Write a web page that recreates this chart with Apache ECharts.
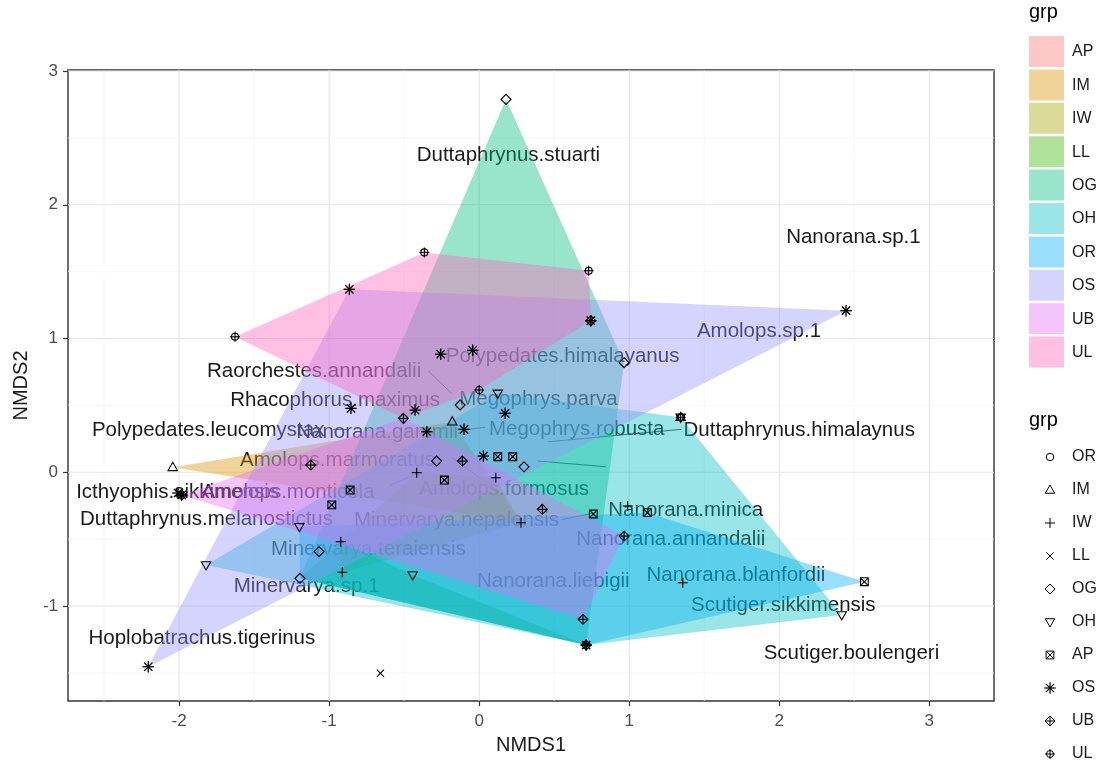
<!DOCTYPE html>
<html><head><meta charset="utf-8">
<script src="https://cdn.jsdelivr.net/npm/echarts@6/dist/echarts.min.js"></script>
<style>html,body{margin:0;padding:0;background:#fff}#c{width:1116px;height:764px}</style>
</head><body><div id="c"></div>
<script>
// ---------- data ----------
const groups = ['AP','IM','IW','LL','OG','OH','OR','OS','UB','UL'];
const groupColors = ['#F8766D','#D89000','#A3A500','#39B600','#00BF7D','#00BFC4','#00B0F6','#9590FF','#E76BF3','#FF62BC'];
const shapeLegendGroups = ['OR','IM','IW','LL','OG','OH','AP','OS','UB','UL'];
const shapeLegendShapes = ['circle','tri','plus','cross','diamond','dtri','sqx','star','dplus','cplus'];

// hull vertices per group (NMDS1, NMDS2)
const hullIM = [[-2.042,0.037],[-0.179,0.378],[0.279,-0.377]];
const hullIW = [[-0.922,-0.519],[-0.416,-0.003],[0.111,-0.041],[0.279,-0.377],[-0.912,-0.748]];
const hullLL = [[-1.194,-0.793],[-0.922,-0.519],[-0.443,-0.768],[0.713,-1.292]];
const hullOG = [[0.179,2.788],[0.966,0.819],[0.713,-1.292],[-1.194,-0.793]];
const hullOH = [[-1.820,-0.693],[0.124,0.590],[1.343,0.411],[2.416,-1.067],[0.713,-1.292]];
const hullOR = [[-1.198,-0.407],[1.121,-0.302],[2.567,-0.818],[0.713,-1.292],[-1.194,-0.793]];
const hullOS = [[-2.205,-1.454],[-0.865,1.368],[2.445,1.208]];
const hullUB = [[-1.982,-0.170],[-0.505,0.403],[0.966,-0.477],[0.692,-1.099]];
const hullUL = [[-1.627,1.013],[-0.365,1.644],[0.730,1.507],[0.744,1.133],[0.000,0.615],[-0.505,0.403]];
const hulls = {AP:[],IM:hullIM,IW:hullIW,LL:hullLL,OG:hullOG,OH:hullOH,OR:hullOR,OS:hullOS,UB:hullUB,UL:hullUL};

// species points: x, y, marker shape
const ptX = [0.179,-0.365,0.730,-1.627,-0.865,0.744,0.744,2.445,-0.256,-0.043,0.966,0.000,0.124,-0.127,-0.427,-0.854,-0.505,0.173,-0.179,-0.101,-0.349,1.343,1.343,1.343,-2.042,-1.122,-1.982,-1.982,-2.007,-0.860,-0.982,-1.198,-0.922,-1.067,-1.820,-0.912,-1.194,-0.283,-0.112,0.028,0.124,0.224,0.299,-0.416,0.111,-0.232,0.421,0.279,0.761,0.990,1.121,0.966,-0.443,1.357,0.692,0.713,0.713,0.713,0.713,2.567,2.416,-2.205,-0.658];
const ptY = [2.788,1.644,1.507,1.013,1.368,1.133,1.133,1.208,0.883,0.912,0.819,0.615,0.590,0.503,0.465,0.478,0.403,0.441,0.378,0.321,0.303,0.411,0.411,0.411,0.037,0.054,-0.170,-0.170,-0.155,-0.133,-0.244,-0.407,-0.519,-0.594,-0.693,-0.748,-0.793,0.084,0.084,0.121,0.116,0.116,0.041,-0.003,-0.041,-0.058,-0.277,-0.377,-0.312,-0.252,-0.302,-0.477,-0.768,-0.826,-1.099,-1.292,-1.292,-1.292,-1.292,-0.818,-1.067,-1.454,-1.503];
const ptShape = ['diamond','cplus','cplus','cplus','star','star','dplus','star','star','star','diamond','cplus','dtri','diamond','star','star','dplus','star','tri','star','star','tri','dtri','cplus','tri','dplus','star','dplus','star','sqx','sqx','dtri','plus','diamond','dtri','plus','diamond','diamond','dplus','star','sqx','sqx','diamond','plus','plus','sqx','dplus','plus','sqx','plus','sqx','dplus','dtri','plus','dplus','star','dplus','plus','cross','sqx','dtri','star','cross'];

// species labels
const labelText = ['Duttaphrynus.stuarti','Nanorana.sp.1','Amolops.sp.1','Polypedates.himalayanus','Raorchestes.annandalii','Megophrys.parva','Rhacophorus.maximus','Polypedates.leucomystax','Nanorana.gammii','Megophrys.robusta','Duttaphrynus.himalaynus','Amolops.marmoratus','Amolops.monticola','Icthyophis.sikkimensis','Duttaphrynus.melanostictus','Minervarya.nepalensis','Amolops.formosus','Nanorana.minica','Minervarya.teraiensis','Nanorana.annandalii','Nanorana.liebigii','Nanorana.blanfordii','Minervarya.sp.1','Scutiger.sikkimensis','Hoplobatrachus.tigerinus','Scutiger.boulengeri'];
const labelX = [0.195,2.494,1.865,0.556,-1.100,0.395,-0.960,-1.806,-0.680,0.650,2.133,-0.944,-1.274,-2.010,-1.817,-0.151,0.167,1.377,-0.738,1.277,0.494,1.711,-1.150,2.027,-1.848,2.481];
const labelY = [2.372,1.757,1.051,0.869,0.752,0.545,0.540,0.316,0.301,0.321,0.316,0.092,-0.150,-0.150,-0.352,-0.357,-0.127,-0.282,-0.576,-0.501,-0.818,-0.768,-0.856,-0.993,-1.241,-1.354];

// leader segments [x1,y1,x2,y2]
const segments = [
  [-0.338,0.757,-0.183,0.589],
  [-0.973,0.320,-0.880,0.320],
  [-0.074,0.321,0.039,0.336],
  [1.347,0.321,0.460,0.228],
  [0.385,0.085,0.845,0.041],
  [-0.593,-0.097,-0.437,-0.022],
  [-0.182,0.112,0.006,-0.045],
  [0.550,-0.355,0.761,-0.305]
];

const xMajor = [-2,-1,0,1,2,3];
const xMinor = [-2.5,-1.5,-0.5,0.5,1.5,2.5];
const yMajor = [-1,0,1,2,3];
const yMinor = [-1.5,-0.5,0.5,1.5,2.5];
const xRange = [-2.74,3.431];
const yRange = [-1.71,3.0075];

// ---------- drawing helpers ----------
function shapeEls(shape, cx, cy, r, lw){
  const st = {stroke:'#000', fill:'none', lineWidth:lw};
  const L = (x1,y1,x2,y2)=>({type:'line', shape:{x1,y1,x2,y2}, style:st});
  const P = pts=>({type:'polygon', shape:{points:pts}, style:st});
  const plus = [L(cx-r,cy,cx+r,cy), L(cx,cy-r,cx,cy+r)];
  const k = r*0.72;
  const cross = [L(cx-k,cy-k,cx+k,cy+k), L(cx-k,cy+k,cx+k,cy-k)];
  switch(shape){
    case 'circle': return [{type:'circle', shape:{cx,cy,r:r*0.75}, style:st}];
    case 'tri': return [P([[cx,cy-r],[cx+r*0.95,cy+r*0.65],[cx-r*0.95,cy+r*0.65]])];
    case 'dtri': return [P([[cx,cy+r],[cx+r*0.95,cy-r*0.65],[cx-r*0.95,cy-r*0.65]])];
    case 'plus': return plus;
    case 'cross': return cross;
    case 'diamond': return [P([[cx,cy-r],[cx+r,cy],[cx,cy+r],[cx-r,cy]])];
    case 'sqx': { const s=r*0.78; return [{type:'rect', shape:{x:cx-s,y:cy-s,width:2*s,height:2*s}, style:st}, L(cx-s,cy-s,cx+s,cy+s), L(cx-s,cy+s,cx+s,cy-s)]; }
    case 'star': { const R=r*1.15, K=R*0.72; return [L(cx-R,cy,cx+R,cy), L(cx,cy-R,cx,cy+R), L(cx-K,cy-K,cx+K,cy+K), L(cx-K,cy+K,cx+K,cy-K)].map(e=>{e.style={stroke:'#000',lineWidth:lw*1.2};return e;}); }
    case 'dplus': return [P([[cx,cy-r],[cx+r,cy],[cx,cy+r],[cx-r,cy]])].concat(plus);
    case 'cplus': return [{type:'circle', shape:{cx,cy,r:r*0.7}, style:st}].concat(plus);
  }
  return [];
}
function rgba(hex,a){
  const n=parseInt(hex.slice(1),16);
  return 'rgba('+((n>>16)&255)+','+((n>>8)&255)+','+(n&255)+','+a+')';
}

const FONT = '"Liberation Sans", Arial, sans-serif';
const series = [];

// grid lines
function gridSeries(vals, isX, color, width){
  return {type:'custom', silent:true, z:0, clip:true,
    data: vals.map(v=>[v]),
    renderItem:(p,api)=>{
      const v=api.value(0);
      const a = isX? api.coord([v,yRange[0]]) : api.coord([xRange[0],v]);
      const b = isX? api.coord([v,yRange[1]]) : api.coord([xRange[1],v]);
      return {type:'line', shape:{x1:a[0],y1:a[1],x2:b[0],y2:b[1]}, style:{stroke:color,lineWidth:width}};
    }};
}
series.push(gridSeries(xMinor,true,'#F3F3F3',0.7));
series.push(gridSeries(yMinor,false,'#F3F3F3',0.7));
series.push(gridSeries(xMajor,true,'#E4E4E4',1.1));
series.push(gridSeries(yMajor,false,'#E4E4E4',1.1));

// leader segments
series.push({type:'custom', silent:true, z:1, clip:true, data:segments,
  renderItem:(p,api)=>{
    const a=api.coord([api.value(0),api.value(1)]), b=api.coord([api.value(2),api.value(3)]);
    return {type:'line', shape:{x1:a[0],y1:a[1],x2:b[0],y2:b[1]}, style:{stroke:'#333',lineWidth:0.9}};
  }});

// species labels (under the hulls, as in the original)
series.push({type:'custom', silent:true, z:1, clip:false,
  data: labelText.map((t,i)=>[labelX[i],labelY[i],i]),
  renderItem:(p,api)=>{
    const c=api.coord([api.value(0),api.value(1)]);
    return {type:'text', x:c[0], y:c[1], style:{text:labelText[api.value(2)], fill:'#1a1a1a', font:'20.5px '+FONT, align:'center', verticalAlign:'middle'}};
  }});

// hull polygons
groups.forEach((g,gi)=>{
  const h = hulls[g];
  series.push({name:g, type:'custom', silent:true, z:2, clip:true,
    data: h.length? [[h[0][0],h[0][1]]] : [],
    renderItem:(p,api)=>{
      const pts = h.map(v=>api.coord(v));
      return {type:'polygon', shape:{points:pts}, style:{fill:rgba(groupColors[gi],0.4), stroke:'none'}};
    }});
});

// points
series.push({type:'custom', silent:true, z:3, clip:true,
  data: ptX.map((x,i)=>[x,ptY[i],i]),
  renderItem:(p,api)=>{
    const c=api.coord([api.value(0),api.value(1)]);
    return {type:'group', children: shapeEls(ptShape[api.value(2)], c[0], c[1], 5, 1.1)};
  }});

// legends (graphic)
const graphic = [];
graphic.push({type:'text', left:1029, top:2, style:{text:'grp', font:'20px '+FONT, fill:'#000'}});
groups.forEach((g,i)=>{
  const y0 = 36 + 33.4*i;
  graphic.push({type:'rect', shape:{x:1029,y:y0,width:35,height:31}, style:{fill:rgba(groupColors[i],0.4)}});
  graphic.push({type:'text', x:1072, y:y0+16, style:{text:g, font:'16px '+FONT, fill:'#1a1a1a', verticalAlign:'middle'}});
});
graphic.push({type:'text', x:1029, y:420, style:{text:'grp', font:'20px '+FONT, fill:'#000', verticalAlign:'middle'}});
shapeLegendGroups.forEach((g,i)=>{
  const yc = 457 + 33*i;
  graphic.push({type:'group', children: shapeEls(shapeLegendShapes[i], 1050, yc, 5, 1)});
  graphic.push({type:'text', x:1072, y:yc, style:{text:g, font:'16px '+FONT, fill:'#1a1a1a', verticalAlign:'middle'}});
});

const chart = echarts.init(document.getElementById('c'), null, {renderer:'canvas'});
chart.setOption({
  animation:false,
  backgroundColor:'#fff',
  grid:{left:68, top:70, width:926, height:631, show:true, borderColor:'#333', borderWidth:1.4, backgroundColor:'transparent', containLabel:false},
  xAxis:{type:'value', min:xRange[0], max:xRange[1], name:'NMDS1', nameLocation:'middle', nameGap:34,
    nameTextStyle:{fontFamily:FONT, fontSize:20, color:'#1a1a1a'},
    axisLine:{show:false, onZero:false}, splitLine:{show:false},
    axisTick:{show:true, length:5, customValues:xMajor, lineStyle:{color:'#333', width:1.2}},
    axisLabel:{customValues:xMajor, fontFamily:FONT, fontSize:17, color:'#4D4D4D', margin:12}},
  yAxis:{type:'value', min:yRange[0], max:yRange[1], name:'NMDS2', nameLocation:'middle', nameGap:32,
    nameTextStyle:{fontFamily:FONT, fontSize:20, color:'#1a1a1a'},
    axisLine:{show:false, onZero:false}, splitLine:{show:false},
    axisTick:{show:true, length:5, customValues:yMajor, lineStyle:{color:'#333', width:1.2}},
    axisLabel:{customValues:yMajor, fontFamily:FONT, fontSize:17, color:'#4D4D4D', margin:10}},
  graphic: graphic,
  series: series
});
</script>
</body></html>
